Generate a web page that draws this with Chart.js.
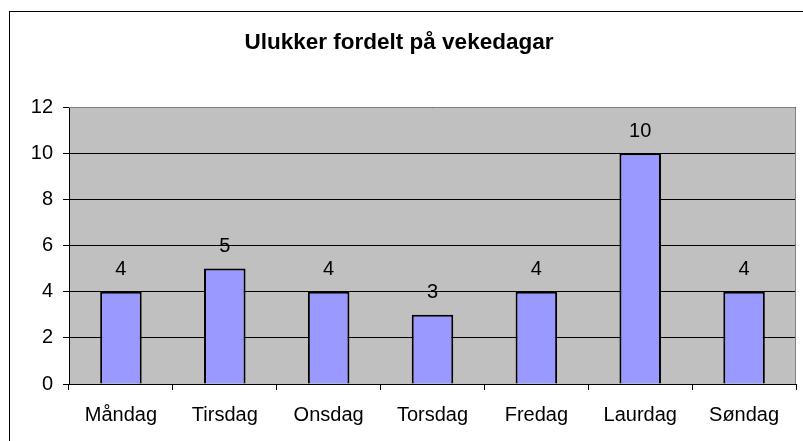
<!DOCTYPE html>
<html>
<head>
<meta charset="utf-8">
<script src="https://cdn.jsdelivr.net/npm/chart.js@4"></script>
<style>
  html, body { margin: 0; padding: 0; background: #fff; }
  #wrap { width: 803px; height: 441px; }
</style>
</head>
<body>
<div id="wrap"><canvas id="c" width="803" height="441"></canvas></div>
<script>
const title = 'Ulukker fordelt på vekedagar';
const days = ['Måndag', 'Tirsdag', 'Onsdag', 'Torsdag', 'Fredag', 'Laurdag', 'Søndag'];
const accidents = [4, 5, 4, 3, 4, 10, 4];
const yTicks = [0, 2, 4, 6, 8, 10, 12];

const FONT = 'Arial, "Liberation Sans", sans-serif';

// bakgrunn, ramme, tittel og verdiar over stolpane
const decor = {
    id: 'decor',
    beforeDraw(chart) {
        const { ctx, chartArea: a } = chart;
        ctx.save();
        ctx.fillStyle = '#fff';
        ctx.fillRect(0, 0, chart.width, chart.height);
        ctx.fillStyle = '#c0c0c0';
        ctx.fillRect(a.left, a.top, a.right - a.left, a.bottom - a.top);
        ctx.strokeStyle = '#000';
        ctx.lineWidth = 1;
        ctx.strokeRect(9.5, 11.5, chart.width + 10, chart.height + 10);
        ctx.fillStyle = '#000';
        ctx.font = 'bold 22.5px ' + FONT;
        ctx.textAlign = 'center';
        ctx.textBaseline = 'alphabetic';
        ctx.fillText(title, 399, 49);
        ctx.restore();
    },
    afterDraw(chart) {
        const { ctx, chartArea: a } = chart;
        ctx.save();
        ctx.strokeStyle = '#808080';
        ctx.lineWidth = 1;
        ctx.beginPath();
        ctx.moveTo(a.left, a.top + 0.5);
        ctx.lineTo(a.right - 0.5, a.top + 0.5);
        ctx.lineTo(a.right - 0.5, a.bottom);
        ctx.stroke();
        ctx.fillStyle = '#000';
        ctx.font = '20px ' + FONT;
        ctx.textAlign = 'center';
        ctx.textBaseline = 'middle';
        chart.getDatasetMeta(0).data.forEach((bar, i) => {
            ctx.fillText(String(accidents[i]), bar.x, bar.y - 22);
        });
        ctx.restore();
    }
};

new Chart(document.getElementById('c'), {
    type: 'bar',
    data: {
        labels: days,
        datasets: [{
            data: accidents,
            backgroundColor: '#9999ff',
            borderColor: '#000',
            borderWidth: 2,
            categoryPercentage: 1,
            barPercentage: 0.4
        }]
    },
    options: {
        responsive: false,
        animation: false,
        layout: { padding: { top: 107, left: 0, right: 7, bottom: 0 } },
        plugins: { legend: { display: false }, title: { display: false }, tooltip: { enabled: false } },
        scales: {
            x: {
                offset: true,
                grid: { offset: true, drawOnChartArea: false, drawTicks: true, tickLength: 6, color: '#000' },
                border: { color: '#000' },
                ticks: { color: '#000', font: { size: 20, family: FONT }, padding: 13, maxRotation: 0 },
                afterFit(s) { s.height = 57; }
            },
            y: {
                min: 0,
                max: 12,
                afterBuildTicks(s) { s.ticks = yTicks.map(v => ({ value: v })); },
                grid: { color: '#000', tickLength: 6, drawTicks: true },
                border: { color: '#000' },
                ticks: { color: '#000', font: { size: 20, family: FONT }, padding: 10 },
                afterFit(s) { s.width = 69; }
            }
        }
    },
    plugins: [decor]
});
</script>
</body>
</html>
